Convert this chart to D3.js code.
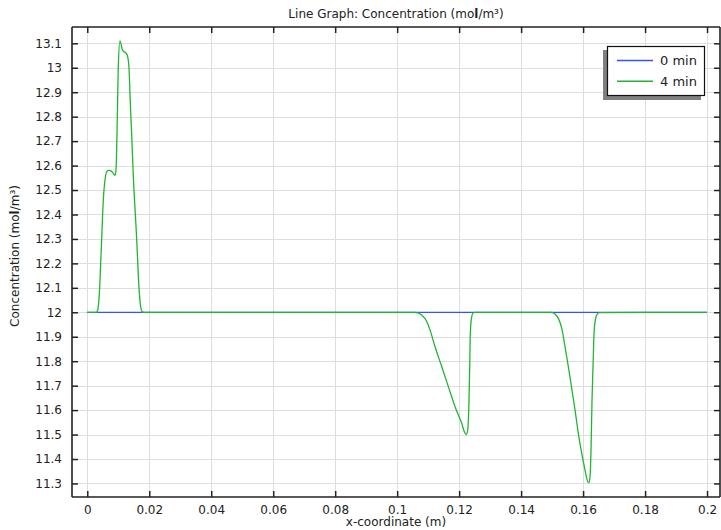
<!DOCTYPE html>
<html>
<head>
<meta charset="utf-8">
<script src="https://cdn.jsdelivr.net/npm/d3@7"></script>
<style>
  html, body { margin: 0; padding: 0; background: #fff; }
  svg { display: block; font-family: "DejaVu Sans", sans-serif; }
</style>
</head>
<body>
<svg id="chart" width="721" height="530"></svg>
<script>
// ---- data ----
const seriesNames = ["0 min", "4 min"];
const seriesColors = ["#2f55ff", "#22b533"];

const blueX = [0, 0.2];
const blueY = [12, 12];

const greenX = [
  0, 0.0030, 0.0033, 0.00355, 0.0040, 0.00432, 0.00465, 0.00497, 0.00539, 0.00571,
  0.00626, 0.0070, 0.00765, 0.00829, 0.00894, 0.00926, 0.00958, 0.0100, 0.01055,
  0.01142, 0.01249, 0.01304, 0.01346, 0.01388, 0.01433, 0.01485, 0.01594, 0.01669,
  0.01723, 0.01775, 0.0185,
  0.1060, 0.10792, 0.10954, 0.1106, 0.11222, 0.11438, 0.11651, 0.11867, 0.12083,
  0.12167, 0.12232, 0.12277, 0.12319, 0.12341, 0.12361, 0.12406, 0.12458, 0.1252,
  0.1498, 0.1510, 0.15201, 0.1531, 0.15417, 0.15524, 0.15633, 0.1574, 0.15846,
  0.15956, 0.16062, 0.16117, 0.16182, 0.16224, 0.16256, 0.16288, 0.16320, 0.16353,
  0.16395, 0.1644, 0.16524, 0.2
];
const greenY = [
  12, 12.0, 12.006, 12.023, 12.10, 12.20, 12.30, 12.405, 12.50, 12.54,
  12.575, 12.58, 12.578, 12.57, 12.56, 12.58, 12.72, 13.0, 13.11,
  13.07, 13.06, 13.045, 13.0, 12.86, 12.725, 12.56, 12.30, 12.10,
  12.023, 12.002, 12,
  12, 11.989, 11.962, 11.928, 11.859, 11.778, 11.696, 11.614, 11.546,
  11.512, 11.50, 11.52, 11.641, 11.778, 11.914, 11.982, 11.998, 12,
  12, 11.992, 11.975, 11.935, 11.859, 11.778, 11.689, 11.60, 11.505,
  11.423, 11.355, 11.321, 11.303, 11.328, 11.437, 11.641, 11.778, 11.914,
  11.969, 11.989, 11.999, 12
];

const xTicks = [0, 0.02, 0.04, 0.06, 0.08, 0.1, 0.12, 0.14, 0.16, 0.18, 0.2];
const yTicks = [11.3, 11.4, 11.5, 11.6, 11.7, 11.8, 11.9, 12, 12.1, 12.2, 12.3, 12.4,
                12.5, 12.6, 12.7, 12.8, 12.9, 13, 13.1];

// ---- layout ----
const L = 72, R = 720, T = 27, B = 497;
const svg = d3.select("#chart");

const x = d3.scaleLinear().domain([-0.00493, 0.20418]).range([L, R]);
const y = d3.scaleLinear().domain([11.2446, 13.1667]).range([B, T]);

// grid
const grid = svg.append("g");
grid.selectAll(".vg").data(xTicks).join("line")
  .attr("x1", d => Math.round(x(d)) + 0.5).attr("x2", d => Math.round(x(d)) + 0.5)
  .attr("y1", T).attr("y2", B)
  .attr("stroke", "#dedede").attr("stroke-width", 1);
grid.selectAll(".hg").data(yTicks).join("line")
  .attr("y1", d => Math.round(y(d)) + 0.5).attr("y2", d => Math.round(y(d)) + 0.5)
  .attr("x1", L).attr("x2", R)
  .attr("stroke", "#dedede").attr("stroke-width", 1);

// lines
const line = d3.line().x(d => x(d[0])).y(d => y(d[1])).curve(d3.curveMonotoneX);
const blueData = blueX.map((v, i) => [v, blueY[i]]);
const greenData = greenX.map((v, i) => [v, greenY[i]]);
svg.append("path").datum(blueData).attr("d", line)
  .attr("fill", "none").attr("stroke", seriesColors[0]).attr("stroke-width", 1.3);
svg.append("path").datum(greenData).attr("d", line)
  .attr("fill", "none").attr("stroke", seriesColors[1]).attr("stroke-width", 1.3);

// axes
const fmt = d => d3.format("~g")(d);
const axB = svg.append("g").attr("transform", `translate(0,${B})`)
  .call(d3.axisBottom(x).tickValues(xTicks).tickFormat(fmt).tickSizeInner(-6).tickSizeOuter(0).tickPadding(8));
const axT = svg.append("g").attr("transform", `translate(0,${T})`)
  .call(d3.axisTop(x).tickValues(xTicks).tickFormat("").tickSizeInner(-6).tickSizeOuter(0));
const axL = svg.append("g").attr("transform", `translate(${L},0)`)
  .call(d3.axisLeft(y).tickValues(yTicks).tickFormat(fmt).tickSizeInner(-6).tickSizeOuter(0).tickPadding(10));
const axR = svg.append("g").attr("transform", `translate(${R},0)`)
  .call(d3.axisRight(y).tickValues(yTicks).tickFormat("").tickSizeInner(-6).tickSizeOuter(0));

[axB, axT, axL, axR].forEach(g => {
  g.select(".domain").attr("stroke", "#222").attr("stroke-width", 1.6);
  g.selectAll(".tick line").attr("stroke", "#222").attr("stroke-width", 1.5);
  g.selectAll(".tick text").attr("fill", "#222").attr("font-size", 12)
    .attr("font-family", "DejaVu Sans, sans-serif");
});
axL.select(".domain").attr("d", `M0,${T}V${B}`);
axR.select(".domain").attr("d", `M0,${T}V${B}`);
axB.select(".domain").attr("d", `M${L},0H${R}`);
axT.select(".domain").attr("d", `M${L},0H${R}`);

// title
const title = svg.append("text").attr("x", (L + R) / 2).attr("y", 18)
  .attr("text-anchor", "middle").attr("font-size", 12).attr("fill", "#222");
title.append("tspan").text("Line Graph: Concentration (mo");
title.append("tspan").attr("font-weight", "bold").text("l");
title.append("tspan").text("/m³)");

// x label
svg.append("text").attr("x", 396).attr("y", 526).attr("text-anchor", "middle")
  .attr("font-size", 12).attr("fill", "#222").text("x-coordinate (m)");

// y label
const yl = svg.append("text").attr("transform", `translate(19,256) rotate(-90)`)
  .attr("text-anchor", "middle").attr("font-size", 12).attr("fill", "#222");
yl.append("tspan").text("Concentration (mo");
yl.append("tspan").attr("font-weight", "bold").text("l");
yl.append("tspan").text("/m³)");

// legend
const lg = svg.append("g");
lg.append("rect").attr("x", 603).attr("y", 50).attr("width", 98).attr("height", 50).attr("fill", "#808080");
lg.append("rect").attr("x", 607.5).attr("y", 46.5).attr("width", 97).attr("height", 49)
  .attr("fill", "#fff").attr("stroke", "#111").attr("stroke-width", 1.2);
seriesNames.forEach((name, i) => {
  const yy = 60.5 + i * 20.7;
  lg.append("line").attr("x1", 617).attr("x2", 653).attr("y1", yy).attr("y2", yy)
    .attr("stroke", seriesColors[i]).attr("stroke-width", 1.5);
  lg.append("text").attr("x", 660).attr("y", yy + 4.5).attr("font-size", 13).attr("fill", "#222").text(name);
});
</script>
</body>
</html>
